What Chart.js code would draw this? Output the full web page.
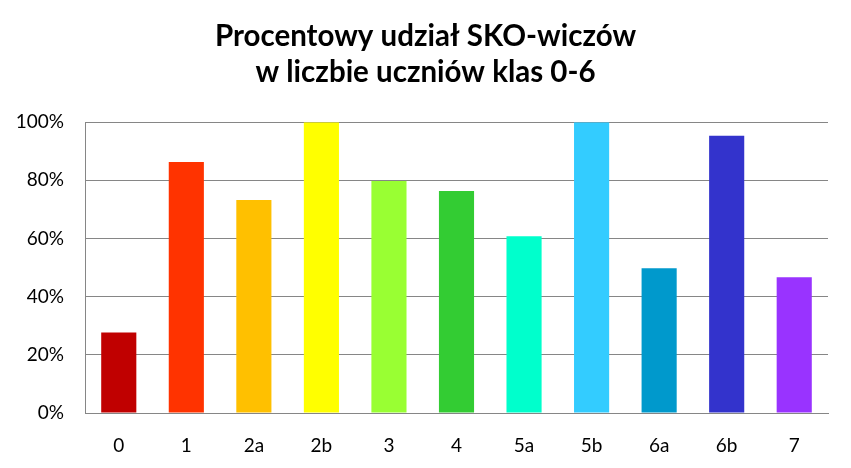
<!DOCTYPE html>
<html>
<head>
<meta charset="utf-8">
<script src="https://cdn.jsdelivr.net/npm/chart.js@4"></script>
<style>
  html, body { margin: 0; padding: 0; background: #fff; }
  #wrap { width: 851px; height: 468px; }
</style>
</head>
<body>
<div id="wrap"><canvas id="grafico"></canvas></div>
<script>
const klasy = ["0", "1", "2a", "2b", "3", "4", "5a", "5b", "6a", "6b", "7"];
const udzial = [27.7, 86.3, 73.2, 100, 79.8, 76.3, 60.8, 100, 49.8, 95.3, 46.7];
const kolory = ["#C00000", "#FF3300", "#FFC000", "#FFFF00", "#99FF33", "#33CC33",
  "#00FFCC", "#33CCFF", "#0099CC", "#3333CC", "#9933FF"];
const tytul = ["Procentowy udział SKO-wiczów", "w liczbie uczniów klas 0-6"];

const ctx = document.getElementById("grafico").getContext("2d");

new Chart(ctx, {
  type: "bar",
  data: {
    labels: klasy,
    datasets: [
      {
        label: "Udział",
        data: udzial,
        backgroundColor: kolory,
        borderWidth: 0,
        categoryPercentage: 1,
        barPercentage: 0.52,
      },
    ],
  },
  options: {
    responsive: true,
    maintainAspectRatio: false,
    animation: false,
    layout: { padding: 0 },
    plugins: {
      legend: { display: false },
      tooltip: { enabled: false },
      title: {
        display: true,
        text: tytul,
        color: "#000",
        font: { family: "Lato", size: 29.5, weight: "bold", lineHeight: 1.24 },
        padding: { top: 18, bottom: 31 },
      },
    },
    scales: {
      x: {
        grid: { display: false },
        border: { display: true, color: "#868686", width: 1 },
        ticks: {
          color: "#000",
          font: { family: "Lato", size: 19 },
          padding: 13,
        },
        afterFit: (scale) => { scale.height = 55; },
      },
      y: {
        min: 0,
        max: 100,
        ticks: {
          stepSize: 20,
          color: "#000",
          font: { family: "Lato", size: 19 },
          padding: 21,
          callback: (v) => v + "%",
        },
        grid: { color: "#868686", lineWidth: 1, drawTicks: false },
        border: { display: true, color: "#868686", width: 1 },
        afterFit: (scale) => { scale.width = 85; },
      },
      // pusta oś po prawej - tylko margines, żeby tytuł był na środku
      margines: {
        position: "right",
        grid: { display: false },
        border: { display: false },
        ticks: { display: false },
        afterFit: (scale) => { scale.width = 23; },
      },
    },
  },
});
</script>
</body>
</html>
